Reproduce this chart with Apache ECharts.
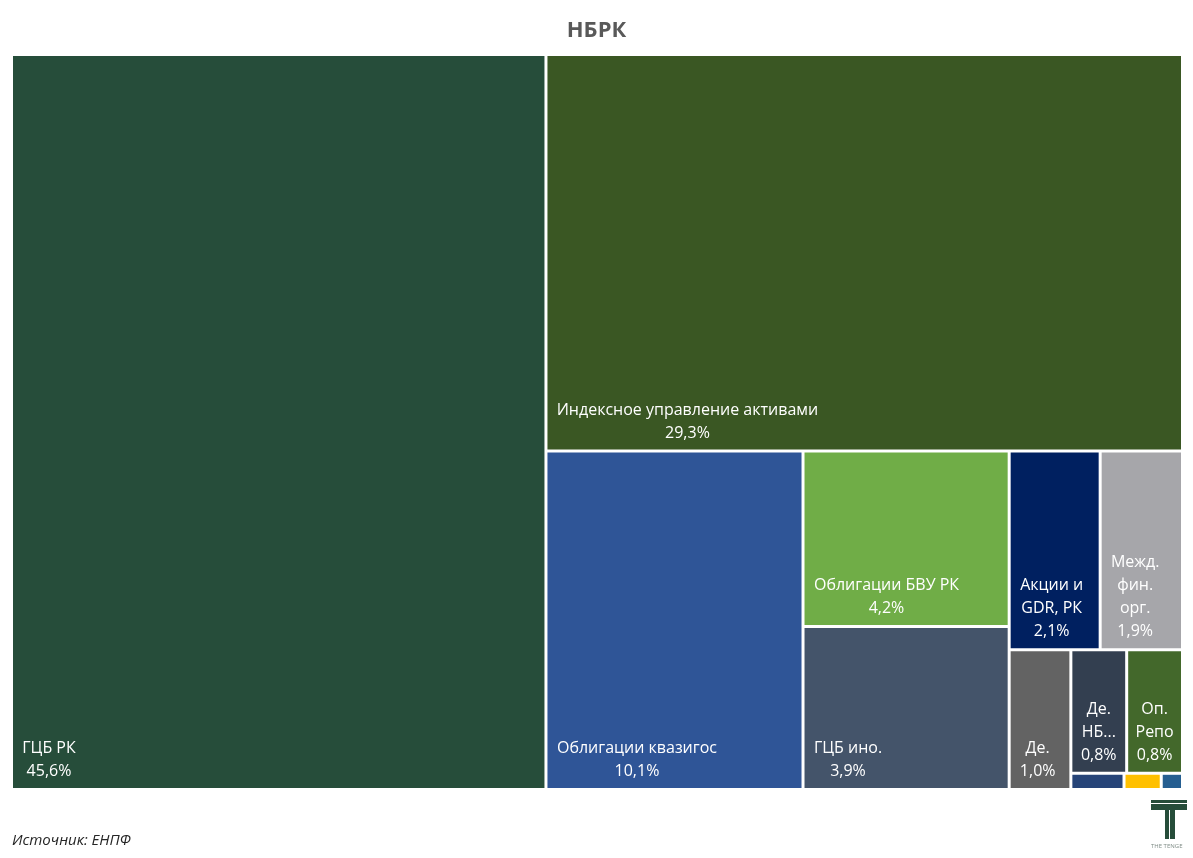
<!DOCTYPE html>
<html><head><meta charset="utf-8">
<script src="https://cdn.jsdelivr.net/npm/echarts@6/dist/echarts.min.js"></script>
<style>html,body{margin:0;padding:0;background:#fff}#c{width:1193px;height:858px}</style>
</head><body><div id="c"></div>
<script>
// ---- data ----
const categories = ['ГЦБ РК', 'Индексное управление активами', 'Облигации квазигос', 'Облигации БВУ РК', 'ГЦБ ино.', 'Акции и GDR, РК', 'Межд. фин. орг.', 'Де.', 'Де. НБ...', 'Оп. Репо', 'Прочее 1', 'Прочее 2', 'Прочее 3'];
const labelLines = ['ГЦБ РК', 'Индексное управление активами', 'Облигации квазигос', 'Облигации БВУ РК', 'ГЦБ ино.', 'Акции и\nGDR, РК', 'Межд.\nфин.\nорг.', 'Де.', 'Де.\nНБ...', 'Оп.\nРепо', '', '', ''];
const values = [45.6, 29.3, 10.1, 4.2, 3.9, 2.1, 1.9, 1.0, 0.8, 0.8, 0.1, 0.07, 0.04];
// grouping of leaves (indices into the arrays above)
const groups = [0, [1, [2, [3, 4], [[5, 6], [7, [[8, 9], [10, 11, 12]]]]]]];
// ---- style ----
const palette = ['#264D3A', '#3A5723', '#2F5597', '#70AD47', '#44546A', '#002060', '#A6A6AA', '#636363', '#333F50', '#43682B', '#264478', '#FFC000', '#255E91'];
const FONT = "'Open Sans', 'Noto Sans', sans-serif";
const FS = 16, LH = 23, MARGIN_L = 9, MARGIN_B = 5;

function pct(v) { return v.toFixed(1).replace('.', ',') + '%'; }
function linesOf(i) { return labelLines[i] ? labelLines[i].split('\n').concat(pct(values[i])) : []; }

const mctx = document.createElement('canvas').getContext('2d');
mctx.font = FS + 'px ' + FONT;
function blockWidth(i) { return Math.max(0, ...linesOf(i).map(l => mctx.measureText(l).width)); }

let gid = 0;
function build(g, boxes) {
  if (Array.isArray(g)) return { name: 'g' + (gid++), children: g.map(c => build(c, boxes)) };
  const node = { name: categories[g], value: values[g], idx: g, itemStyle: { color: palette[g] } };
  if (boxes && boxes[g] && labelLines[g]) {
    const b = boxes[g];
    const n = linesOf(g).length;
    const W = Math.ceil(blockWidth(g));
    const pl = Math.min(MARGIN_L, Math.max(0, (b.width - W) / 2));
    const pr = Math.max(0, b.width - pl - W);
    const pt = Math.max(0, b.height - MARGIN_B - n * LH);
    node.label = { padding: [pt, pr, 0, pl] };
  }
  return node;
}

const chart = echarts.init(document.getElementById('c'), null, { renderer: 'canvas' });
const baseOption = {
  animation: false,
  title: {
    text: 'НБРК', left: 'center', top: 15,
    textStyle: { fontSize: 22, fontWeight: 'bold', color: '#595959', fontFamily: FONT }
  },
  series: [{
    type: 'treemap',
    left: 13, top: 56, width: 1168, height: 732,
    sort: false,
    squareRatio: 1.215,
    roam: false,
    nodeClick: false,
    breadcrumb: { show: false },
    visibleMin: 0,
    itemStyle: { gapWidth: 3, borderWidth: 0, borderColor: '#fff' },
    emphasis: { disabled: true },
    label: {
      show: true,
      position: 'insideTopLeft',
      distance: 0,
      padding: 0,
      overflow: 'none',
      formatter: function (p) {
        const i = p.data.idx;
        if (i == null || !labelLines[i]) return '';
        return linesOf(i).map(l => '{c|' + l + '}').join('\n');
      },
      rich: {
        c: { align: 'center', color: '#fff', fontSize: FS, lineHeight: LH, fontFamily: FONT }
      }
    },
    data: build(groups).children
  }],
  graphic: [
    {
      type: 'text', left: 12, top: 833,
      style: { text: 'Источник: ЕНПФ', font: "italic 15px 'Open Sans', sans-serif", fill: '#262626' }
    },
    { type: 'rect', shape: { x: 1151, y: 800, width: 36, height: 3 }, style: { fill: '#264D3A' } },
    { type: 'rect', shape: { x: 1151, y: 804, width: 36, height: 6 }, style: { fill: '#264D3A' } },
    { type: 'rect', shape: { x: 1165, y: 810, width: 4, height: 29 }, style: { fill: '#264D3A' } },
    { type: 'rect', shape: { x: 1170, y: 810, width: 5, height: 29 }, style: { fill: '#264D3A' } },
    {
      type: 'text', left: 1151, top: 843,
      style: { text: 'THE TENGE', font: "6px 'Open Sans', sans-serif", fill: '#7f8c86' }
    }
  ]
};
chart.setOption(baseOption);

// second pass: place labels at the bottom-left of the boxes laid out by the treemap
const sd = chart.getModel().getSeriesByIndex(0).getData();
const boxes = {};
for (let k = 0; k < sd.count(); k++) {
  const raw = sd.getRawDataItem(k);
  const lay = sd.getItemLayout(k);
  if (raw && raw.idx != null && lay) boxes[raw.idx] = { width: lay.width, height: lay.height };
}
gid = 0;
chart.setOption({ series: [{ data: build(groups, boxes).children }] });
</script>
</body></html>
